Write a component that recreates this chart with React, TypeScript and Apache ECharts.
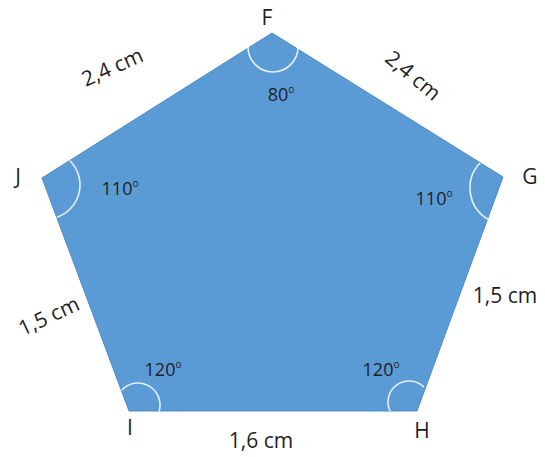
import React, { useEffect, useRef } from "react";
import * as echarts from "echarts";

// Pentagon vertices (F, G, H, I, J) in drawing units (1 unit = 1 px)
const vertexNames = ["F", "G", "H", "I", "J"];
const vertexX = [272, 503, 417, 129, 42];
const vertexY = [33, 177, 411, 411, 178];

// Interior angles at each vertex (degrees)
const angleValues = [80, 110, 120, 120, 110];

// Side lengths: FG, GH, HI, IJ, JF
const sideLabels = ["2,4 cm", "1,5 cm", "1,6 cm", "1,5 cm", "2,4 cm"];

const FONT = "'Open Sans', 'Liberation Sans', sans-serif";
const TEXT_COLOR = "#1f1f1f";

// layout (label placement & arc marks), indexed like vertices / sides
const vertexLabelOffset = [
  [-5, -16],
  [27, -1],
  [5, 19],
  [1, 16],
  [-24, -2],
];
const angleLabelOffset = [
  [9, 61],
  [-69, 21],
  [-36, -42],
  [34, -42],
  [78, 10],
];
const arcLayout = [
  { dx: 1, dy: 14, r: 25, a0: 0, a1: 180 },
  { dx: 3, dy: 11, r: 36, a0: 119, a1: 224 },
  { dx: -8, dy: -9, r: 21, a0: 154, a1: 315 },
  { dx: 9, dy: -6, r: 22, a0: 222, a1: 377 },
  { dx: 4, dy: 7, r: 34, a0: -46, a1: 71 },
];
// side label: offset from side midpoint, rotation (deg, ccw)
const sideLabelLayout = [
  { dx: 26, dy: -30, rot: -40 },
  { dx: 45, dy: 1, rot: 0 },
  { dx: -12, dy: 29, rot: 0 },
  { dx: -37, dy: 21, rot: 25 },
  { dx: -45, dy: -39, rot: 24 },
];

const rad = (d: number) => (d * Math.PI) / 180;

export default function App() {
  const ref = useRef<HTMLDivElement>(null);

  useEffect(() => {
    if (!ref.current) return;
    const chart = echarts.init(ref.current, undefined, { renderer: "svg" });

    const pts = vertexX.map((x, i) => [x, vertexY[i]]);

    const option: any = {
      animation: false,
      backgroundColor: "#ffffff",
      grid: { left: 0, right: 0, top: 0, bottom: 0, containLabel: false },
      xAxis: { type: "value", min: 0, max: 545, show: false },
      yAxis: { type: "value", min: 0, max: 457, inverse: true, show: false },
      series: [
        {
          type: "custom",
          name: "pentagon",
          coordinateSystem: "cartesian2d",
          data: [pts[0]],
          silent: true,
          renderItem: (_p: any, api: any) => ({
            type: "polygon",
            shape: { points: pts.map((p) => api.coord(p)) },
            style: { fill: "#5B9BD5", stroke: "#4F8BC6", lineWidth: 1 },
          }),
        },
        {
          type: "custom",
          name: "arcs",
          coordinateSystem: "cartesian2d",
          data: pts,
          silent: true,
          renderItem: (p: any, api: any) => {
            const i = p.dataIndex;
            const a = arcLayout[i];
            const c = api.coord([api.value(0) + a.dx, api.value(1) + a.dy]);
            return {
              type: "arc",
              shape: {
                cx: c[0],
                cy: c[1],
                r: a.r,
                startAngle: rad(a.a0),
                endAngle: rad(a.a1),
                clockwise: true,
              },
              style: { stroke: "rgba(255,255,255,0.85)", lineWidth: 1.6, fill: null },
            };
          },
        },
        {
          type: "custom",
          name: "vertexLabels",
          coordinateSystem: "cartesian2d",
          data: pts,
          silent: true,
          renderItem: (p: any, api: any) => {
            const i = p.dataIndex;
            const o = vertexLabelOffset[i];
            const c = api.coord([api.value(0) + o[0], api.value(1) + o[1]]);
            return {
              type: "text",
              x: c[0],
              y: c[1],
              style: {
                text: vertexNames[i],
                fill: TEXT_COLOR,
                fontSize: 21,
                fontFamily: FONT,
                align: "center",
                verticalAlign: "middle",
              },
            };
          },
        },
        {
          type: "custom",
          name: "angleLabels",
          coordinateSystem: "cartesian2d",
          data: pts,
          silent: true,
          renderItem: (p: any, api: any) => {
            const i = p.dataIndex;
            const o = angleLabelOffset[i];
            const c = api.coord([api.value(0) + o[0], api.value(1) + o[1]]);
            return {
              type: "text",
              x: c[0],
              y: c[1],
              style: {
                text: `{n|${angleValues[i]}}{s|o}`,
                fill: TEXT_COLOR,
                fontFamily: FONT,
                align: "center",
                verticalAlign: "middle",
                rich: {
                  n: { fontSize: 18, fontFamily: FONT, fill: TEXT_COLOR, lineHeight: 20 },
                  s: {
                    fontSize: 10,
                    fontFamily: FONT,
                    fill: TEXT_COLOR,
                    lineHeight: 20,
                    verticalAlign: "top",
                  },
                },
              },
            };
          },
        },
        {
          type: "custom",
          name: "sideLabels",
          coordinateSystem: "cartesian2d",
          data: sideLabels.map((_, i) => {
            const j = (i + 1) % pts.length;
            return [(pts[i][0] + pts[j][0]) / 2, (pts[i][1] + pts[j][1]) / 2];
          }),
          silent: true,
          renderItem: (p: any, api: any) => {
            const i = p.dataIndex;
            const l = sideLabelLayout[i];
            const c = api.coord([api.value(0) + l.dx, api.value(1) + l.dy]);
            return {
              type: "text",
              x: c[0],
              y: c[1],
              rotation: rad(l.rot),
              style: {
                text: sideLabels[i],
                fill: TEXT_COLOR,
                fontSize: 21,
                fontFamily: FONT,
                align: "center",
                verticalAlign: "middle",
              },
            };
          },
        },
      ],
    };

    chart.setOption(option);
    return () => chart.dispose();
  }, []);

  return (
    <div
      ref={ref}
      style={{ position: "fixed", left: 0, top: 0, width: 545, height: 457, background: "#fff" }}
    />
  );
}
